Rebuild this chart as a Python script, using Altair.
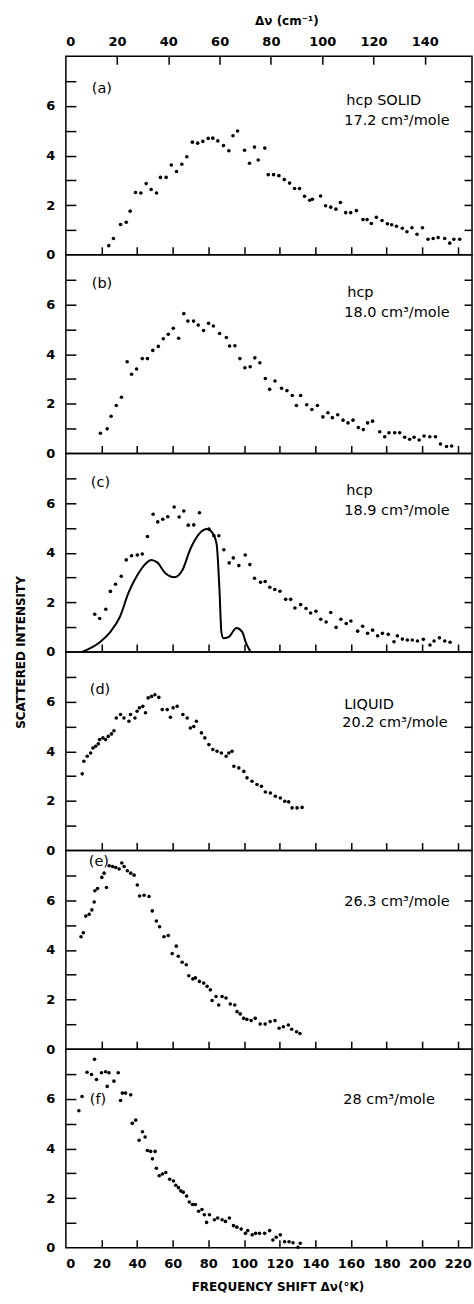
import altair as alt
import pandas as pd

# ---------------- data ----------------
K_PER_CM = 1.4388
bottom_ticks = [20, 40, 60, 80, 100, 120, 140, 160, 180, 200, 220]
bottom_labels = [0, 20, 40, 60, 80, 100, 120, 140, 160, 180, 200, 220]
top_cm_ticks = [20, 40, 60, 80, 100, 120, 140]
top_cm_labels = [0, 20, 40, 60, 80, 100, 120, 140]
y_label_vals = [0, 2, 4, 6]
y_tick_vals = [1, 2, 3, 4, 5, 6, 7]

a_pts = [(24.1, 0.37), (26.7, 0.66), (30.7, 1.22), (33.9, 1.31), (36.1, 1.76), (39.1, 2.51),
         (42.1, 2.49), (45.1, 2.87), (47.9, 2.63), (50.9, 2.49), (53.1, 3.12), (56.3, 3.12),
         (59.2, 3.62), (62.1, 3.36), (65.1, 3.65), (67.9, 3.95), (71.0, 4.54), (74.0, 4.50),
         (76.9, 4.57), (79.9, 4.69), (82.5, 4.70), (85.3, 4.59), (88.5, 4.40), (91.5, 4.19),
         (93.8, 4.80), (96.4, 4.99), (100.3, 4.21), (103.1, 3.69), (105.9, 4.34), (108.0, 3.82),
         (111.7, 4.30), (113.6, 3.23), (116.6, 3.23), (119.6, 3.19), (122.6, 3.03), (125.6, 2.89),
         (128.4, 2.67), (131.2, 2.67), (134.0, 2.36), (136.9, 2.20), (138.4, 2.24), (143.0, 2.37),
         (145.8, 1.98), (148.7, 1.92), (151.6, 1.84), (154.1, 2.11), (157.1, 1.70), (159.9, 1.70),
         (163.1, 1.78), (166.8, 1.42), (169.1, 1.42), (171.5, 1.26), (174.3, 1.51), (177.5, 1.38),
         (180.5, 1.25), (182.9, 1.21), (185.6, 1.15), (188.9, 1.07), (191.5, 0.93), (194.3, 1.09),
         (197.1, 0.83), (200.2, 1.09), (203.3, 0.63), (206.2, 0.66), (209.0, 0.70), (212.7, 0.66),
         (215.5, 0.47), (217.8, 0.63), (221.1, 0.63)]

b_pts = [(19.4, 0.81), (23.2, 0.99), (25.4, 1.50), (28.3, 1.93), (31.2, 2.26), (34.4, 3.69),
         (36.9, 3.19), (39.7, 3.40), (42.9, 3.82), (45.8, 3.82), (48.8, 4.15), (51.9, 4.31),
         (54.7, 4.62), (57.5, 4.80), (60.3, 5.04), (63.3, 4.64), (66.2, 5.63), (68.5, 5.33),
         (71.7, 5.33), (74.3, 5.17), (77.3, 4.95), (80.1, 5.24), (82.8, 5.13), (86.3, 4.83),
         (90.1, 4.67), (91.9, 4.33), (94.9, 4.34), (97.7, 3.82), (100.5, 3.45), (103.5, 3.49),
         (106.1, 3.85), (108.9, 3.65), (112.0, 3.02), (114.4, 2.58), (117.4, 2.92), (121.1, 2.62),
         (124.1, 2.53), (127.1, 2.33), (129.4, 1.93), (131.8, 2.33), (135.2, 1.96), (138.1, 1.77),
         (141.2, 1.93), (144.3, 1.47), (147.1, 1.64), (149.6, 1.44), (152.6, 1.56), (155.6, 1.34),
         (158.4, 1.23), (161.2, 1.34), (164.2, 1.04), (167.0, 0.96), (169.4, 1.23), (172.2, 1.30),
         (176.2, 0.87), (179.0, 0.67), (181.4, 0.83), (184.6, 0.83), (187.4, 0.83), (190.2, 0.65),
         (193.0, 0.57), (195.5, 0.65), (198.3, 0.54), (201.1, 0.70), (204.3, 0.67), (207.5, 0.67),
         (210.3, 0.38), (213.7, 0.28), (216.6, 0.30)]

c_pts = [(16.2, 1.52), (19.0, 1.35), (22.4, 1.72), (25.0, 2.44), (27.9, 2.73), (31.1, 3.05),
         (33.9, 3.71), (36.9, 3.88), (40.1, 3.91), (42.9, 3.95), (45.8, 4.65), (49.0, 5.55),
         (51.6, 5.24), (54.4, 5.35), (57.2, 5.45), (60.8, 5.84), (63.6, 5.44), (66.2, 5.68),
         (68.7, 5.11), (71.8, 5.12), (75.0, 5.61), (80.3, 4.95), (83.1, 4.68), (85.9, 4.68),
         (88.7, 4.12), (91.7, 3.59), (94.0, 3.79), (97.1, 3.48), (100.7, 3.91), (103.3, 3.52),
         (105.9, 2.97), (109.3, 2.81), (111.9, 2.84), (114.5, 2.61), (117.3, 2.52), (120.2, 2.45),
         (123.4, 2.12), (126.2, 2.12), (128.6, 1.77), (131.8, 1.91), (134.8, 1.75), (137.4, 1.57),
         (140.4, 1.64), (143.1, 1.32), (146.1, 1.21), (148.7, 1.59), (151.7, 0.99), (154.4, 1.32),
         (157.4, 1.15), (160.0, 1.25), (163.8, 0.84), (166.6, 1.04), (169.4, 0.75), (172.2, 0.88),
         (175.0, 0.65), (177.7, 0.75), (181.0, 0.71), (184.2, 0.41), (186.1, 0.65), (188.9, 0.52),
         (191.7, 0.48), (194.5, 0.48), (197.4, 0.44), (200.7, 0.51), (204.4, 0.28), (206.7, 0.44),
         (209.7, 0.57), (212.7, 0.44), (215.7, 0.39)]

c_curve = [(9.1, 0.0), (19.4, 0.41), (25.0, 0.81), (30.3, 1.41), (35.3, 2.41), (40.0, 3.08),
           (44.7, 3.55), (47.9, 3.71), (51.3, 3.61), (55.9, 3.17), (61.0, 3.01), (65.3, 3.28),
           (69.9, 4.15), (74.7, 4.75), (79.4, 4.95), (82.2, 4.81), (84.6, 4.36), (86.3, 2.40),
           (87.3, 0.81), (88.4, 0.55), (91.5, 0.61), (95.8, 0.97), (99.0, 0.81), (100.9, 0.41),
           (103.7, 0.0)]

d_pts = [(9.2, 3.09), (10.1, 3.60), (12.0, 3.80), (13.9, 3.93), (15.2, 4.13), (16.7, 4.20),
         (18.2, 4.30), (18.9, 4.47), (20.8, 4.54), (22.3, 4.47), (23.8, 4.60), (25.6, 4.70),
         (27.0, 4.83), (28.3, 5.34), (30.7, 5.48), (32.6, 5.34), (35.4, 5.21), (36.3, 5.48),
         (38.8, 5.34), (40.0, 5.61), (41.3, 5.75), (43.2, 5.81), (44.7, 5.55), (46.2, 6.15),
         (48.1, 6.21), (50.0, 6.28), (52.2, 6.17), (54.1, 5.68), (56.9, 5.68), (58.7, 5.37),
         (60.2, 5.75), (62.5, 5.81), (65.7, 5.48), (68.1, 5.34), (69.9, 4.94), (71.8, 5.00),
         (73.3, 5.21), (76.1, 4.74), (78.0, 4.54), (80.3, 4.27), (82.5, 4.07), (84.9, 4.00),
         (87.3, 3.93), (90.0, 3.80), (91.5, 3.93), (93.3, 4.00), (94.3, 3.40), (97.1, 3.33),
         (99.9, 3.19), (101.7, 2.93), (104.5, 2.79), (107.3, 2.66), (109.8, 2.59), (112.0, 2.36),
         (114.8, 2.32), (117.6, 2.19), (120.4, 2.12), (122.9, 1.99), (125.1, 1.96), (127.0, 1.72),
         (129.8, 1.72), (132.6, 1.74)]

e_pts = [(8.5, 4.53), (9.8, 4.69), (11.2, 5.36), (13.1, 5.43), (14.6, 5.61), (15.9, 5.93),
         (16.3, 6.38), (17.8, 6.47), (20.2, 6.92), (21.5, 7.09), (22.8, 6.51), (24.3, 7.39),
         (26.2, 7.36), (28.0, 7.32), (29.9, 7.26), (31.4, 7.50), (32.7, 7.36), (34.5, 7.19),
         (36.4, 7.09), (38.3, 7.01), (40.1, 6.61), (41.4, 6.17), (43.9, 6.20), (46.7, 6.15),
         (48.5, 5.57), (50.8, 5.16), (52.6, 4.93), (55.1, 4.53), (57.5, 4.58), (59.7, 3.85),
         (62.0, 4.15), (63.1, 3.74), (65.3, 3.50), (67.6, 3.40), (69.0, 2.96), (71.3, 2.83),
         (72.7, 2.87), (75.0, 2.73), (77.4, 2.66), (79.3, 2.53), (81.1, 2.39), (82.1, 1.96),
         (84.3, 2.12), (85.8, 1.78), (87.7, 2.12), (89.9, 2.06), (92.3, 1.82), (94.8, 1.78),
         (96.1, 1.51), (97.9, 1.42), (99.8, 1.24), (101.6, 1.20), (104.0, 1.15), (106.3, 1.24),
         (109.1, 1.01), (111.9, 1.01), (114.7, 1.11), (117.4, 1.15), (119.7, 0.84), (122.1, 0.90),
         (124.9, 0.97), (126.8, 0.80), (129.5, 0.70), (131.4, 0.63)]

f_pts = [(7.3, 5.52), (9.1, 6.09), (11.9, 7.07), (14.4, 6.98), (16.1, 7.59), (17.2, 6.78),
         (20.0, 7.05), (22.3, 7.09), (23.2, 6.50), (24.2, 7.05), (27.0, 6.71), (29.4, 7.05),
         (30.7, 5.93), (31.7, 6.23), (33.5, 6.23), (36.4, 6.16), (37.3, 5.01), (39.2, 5.14),
         (41.1, 4.33), (43.0, 4.67), (44.5, 4.46), (45.8, 3.92), (47.6, 3.88), (48.6, 3.58),
         (50.1, 3.88), (50.8, 3.20), (52.4, 2.90), (54.2, 2.97), (56.1, 3.03), (58.3, 2.76),
         (60.4, 2.69), (61.7, 2.52), (63.2, 2.42), (64.5, 2.29), (65.9, 2.24), (67.8, 2.08),
         (69.3, 1.84), (71.1, 1.74), (72.7, 1.74), (74.5, 1.47), (76.4, 1.54), (77.7, 1.33),
         (79.0, 1.02), (80.6, 1.33), (83.4, 1.13), (85.2, 1.20), (87.7, 1.13), (89.6, 1.06),
         (91.8, 1.20), (94.1, 0.89), (96.0, 0.83), (98.4, 0.75), (100.8, 0.58), (102.1, 0.69),
         (104.6, 0.52), (106.5, 0.58), (108.7, 0.58), (111.6, 0.58), (114.4, 0.69), (116.2, 0.31),
         (118.1, 0.42), (120.4, 0.52), (122.8, 0.24), (125.3, 0.24), (127.5, 0.20), (130.3, 0.02),
         (131.6, 0.18)]

panel_letters = ["(a)", "(b)", "(c)", "(d)", "(e)", "(f)"]
panel_line1 = ["hcp SOLID", "hcp", "hcp", "LIQUID", "", ""]
panel_line2 = ["17.2 cm³/mole", "18.0 cm³/mole", "18.9 cm³/mole", "20.2 cm³/mole",
               "26.3 cm³/mole", "28 cm³/mole"]

# ---------------- layout / style ----------------
FONT = "DejaVu Sans"
W, H = 407, 199
xs = alt.Scale(domain=[0, 228], nice=False, zero=False)
ys = alt.Scale(domain=[0, 8], nice=False, zero=False)

# (x, y) pixel positions of the annotations inside each panel
letter_pos = [(26, 33), (26, 29), (25, 30), (24, 38), (23, 11), (24, 51)]
line1_pos = [(281, 45), (282, 38), (281, 38), (279, 53), (0, 0), (0, 0)]
line2_pos = [(279, 65), (279, 58), (279, 58), (277, 71), (279, 52), (278, 51)]

dummy = alt.Data(values=[{}])


def txt(s, pos, size=14.5):
    return alt.Chart(dummy).mark_text(
        text=s, align="left", baseline="middle", font=FONT, fontSize=size, color="black"
    ).encode(x=alt.value(pos[0]), y=alt.value(pos[1]))


def panel(i, pts, first=False, last=False, curve=None, ytitle=False):
    data = pd.DataFrame(pts, columns=["x", "y"])
    base = alt.Chart(data)

    if ytitle:
        ylab_axis = alt.Axis(orient="left", values=y_label_vals, ticks=False, domain=False,
                             grid=False, labelPadding=11, labelFontSize=13,
                             labelFontWeight="bold", title="SCATTERED INTENSITY",
                             titleX=-45, titleY=H, titleAngle=270, titleAlign="center",
                             titleBaseline="middle", titleFontSize=12, titleFontWeight="bold")
    else:
        ylab_axis = alt.Axis(orient="left", values=y_label_vals, ticks=False, domain=False,
                             grid=False, labelPadding=11, labelFontSize=13,
                             labelFontWeight="bold", title=None)

    layers = []
    layers.append(base.mark_circle(size=13, color="black", opacity=1).encode(
        x=alt.X("x:Q", scale=xs, axis=alt.Axis(orient="bottom", values=bottom_ticks, offset=-8,
                                               tickSize=8, labels=False, domain=False,
                                               grid=False, title=None)),
        y=alt.Y("y:Q", scale=ys, axis=ylab_axis)))

    if last:
        xb = alt.Axis(orient="bottom", values=bottom_labels, ticks=False, domain=False,
                      grid=False, labelPadding=10, labelFontSize=13, labelFontWeight="bold",
                      title="FREQUENCY SHIFT Δν(°K)", titleX=212, titlePadding=11,
                      titleFontSize=12, titleFontWeight="bold")
    else:
        xb = None
    layers.append(base.mark_point(opacity=0).encode(
        x=alt.X("x:Q", scale=xs, axis=xb),
        y=alt.Y("y:Q", scale=ys, axis=alt.Axis(orient="left", values=y_tick_vals, offset=-10,
                                               tickSize=10, labels=False, domain=False,
                                               grid=False, title=None))))

    if first:
        xt = alt.Axis(orient="top", values=[c * K_PER_CM for c in top_cm_ticks], offset=-8,
                      tickSize=8, labels=False, domain=False, grid=False, title=None)
    else:
        xt = None
    layers.append(base.mark_point(opacity=0).encode(
        x=alt.X("x:Q", scale=xs, axis=xt),
        y=alt.Y("y:Q", scale=ys, axis=alt.Axis(orient="right", values=y_tick_vals, offset=-8,
                                               tickSize=8, labels=False, domain=False,
                                               grid=False, title=None))))

    if first:
        layers.append(base.mark_point(opacity=0).encode(
            x=alt.X("x:Q", scale=xs, axis=alt.Axis(
                orient="top", values=[c * K_PER_CM for c in top_cm_labels], ticks=False,
                domain=False, grid=False, labelPadding=8, labelFontSize=13,
                labelFontWeight="bold", labelExpr="format(datum.value / 1.4388, '.0f')",
                title="Δν (cm⁻¹)", titleX=221, titlePadding=8, titleFontSize=12,
                titleFontWeight="bold")),
            y=alt.Y("y:Q", scale=ys, axis=None)))

    if curve is not None:
        cdf = pd.DataFrame(curve, columns=["x", "y"])
        layers.append(alt.Chart(cdf).mark_line(color="black", strokeWidth=2,
                                               interpolate="monotone").encode(
            x=alt.X("x:Q", scale=xs, axis=None), y=alt.Y("y:Q", scale=ys, axis=None)))

    layers.append(txt(panel_letters[i], letter_pos[i]))
    if panel_line1[i]:
        layers.append(txt(panel_line1[i], line1_pos[i]))
    layers.append(txt(panel_line2[i], line2_pos[i]))

    return alt.layer(*layers).resolve_axis(x="independent", y="independent").properties(
        width=W, height=H)


panels = [
    panel(0, a_pts, first=True),
    panel(1, b_pts),
    panel(2, c_pts, curve=c_curve, ytitle=True),
    panel(3, d_pts),
    panel(4, e_pts),
    panel(5, f_pts, last=True),
]

chart = alt.vconcat(*panels, spacing=0, bounds="flush").configure_view(
    stroke="black", strokeWidth=1.5
).configure_axis(
    labelFont=FONT, titleFont=FONT, tickColor="black", tickWidth=1.5,
    labelColor="black", titleColor="black"
).properties(
    padding={"left": 14, "top": 12, "right": 0, "bottom": 0}, background="white"
)

chart.save("out.html", embed_options={"renderer": "svg", "actions": False})
